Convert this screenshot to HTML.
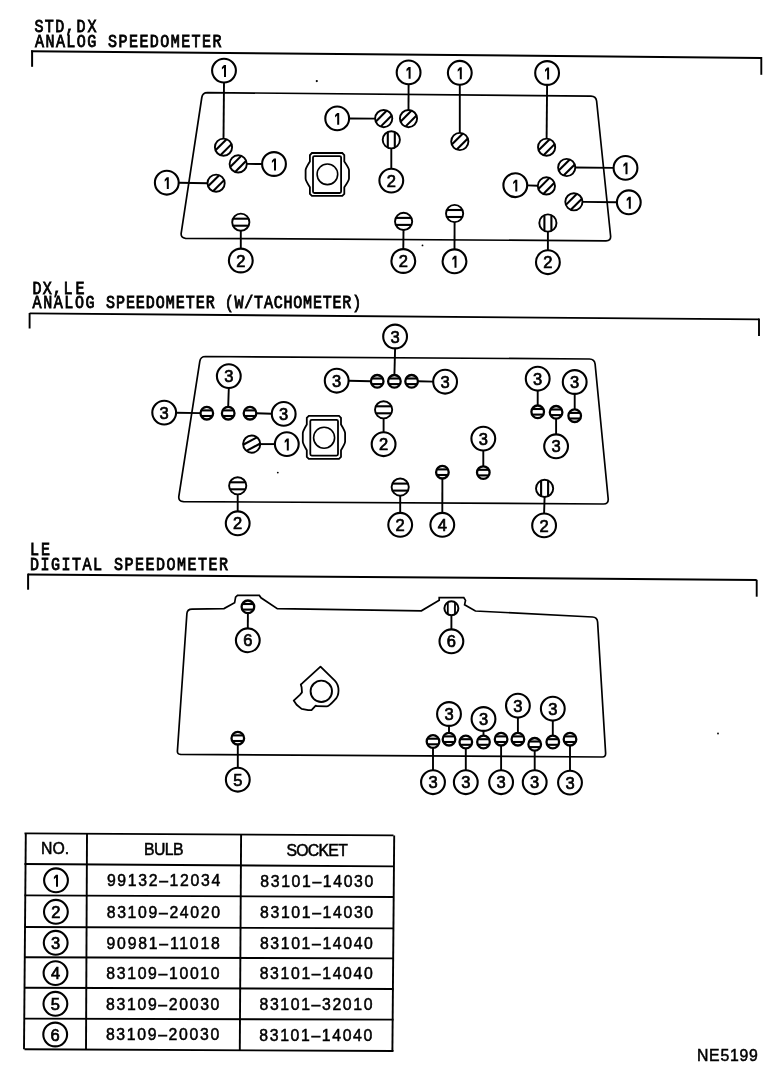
<!DOCTYPE html>
<html><head><meta charset="utf-8"><style>
html,body{margin:0;padding:0;background:#fff;}
body{width:784px;height:1092px;overflow:hidden;}
svg{display:block;will-change:transform;}
text{font-family:"Liberation Mono",monospace;fill:#000;stroke:none;}
.hd{stroke:#000;stroke-width:0.85;}
.tb{font-family:"Liberation Sans",sans-serif;stroke:#000;stroke-width:0.5;}
.dg{font-family:"Liberation Sans",sans-serif;font-size:16.5px;text-anchor:middle;stroke:#000;stroke-width:0.7;}
</style></head><body>
<svg width="784" height="1092" viewBox="0 0 784 1092">
<rect width="784" height="1092" fill="#fff"/>
<g stroke="#000" fill="none" stroke-linecap="butt">
<text class="hd" transform="translate(34.5,31.8) scale(0.86,1)" x="0" y="0" textLength="46.5" lengthAdjust="spacing" font-size="17.5">STD,</text>
<text class="hd" transform="translate(76.5,31.8) scale(0.86,1)" x="0" y="0" textLength="23.3" lengthAdjust="spacing" font-size="17.5">DX</text>
<text class="hd" transform="translate(35.0,46.7) scale(0.86,1)" x="0" y="0" textLength="216.9" lengthAdjust="spacing" font-size="17.5">ANALOG SPEEDOMETER</text>
<line x1="31.0" y1="51.2" x2="761.3" y2="57.9" stroke-width="2.0"/>
<line x1="32.1" y1="50.5" x2="32.1" y2="66.8" stroke-width="2.0"/>
<line x1="761.3" y1="57.0" x2="761.3" y2="74.8" stroke-width="1.9"/>
<path d="M207.5,92.6 L591,96.1 Q596,96.3 596.6,101 L610.6,236 Q611,240.8 606,240.8 L185.5,238.3 Q180.6,238 181.2,233 L201.8,97.5 Q202.5,92.6 207.5,92.6 Z" stroke-width="1.7" fill="none"/>
<circle cx="316.8" cy="81.1" r="1.1" fill="#000" stroke="none"/>
<circle cx="422.5" cy="245.4" r="0.9" fill="#000" stroke="none"/>
<line x1="224.0" y1="82.5" x2="223.5" y2="139.0" stroke-width="1.9"/>
<line x1="247.0" y1="163.9" x2="262.0" y2="164.0" stroke-width="1.9"/>
<line x1="178.7" y1="182.7" x2="208.0" y2="183.2" stroke-width="1.9"/>
<line x1="240.8" y1="230.5" x2="240.8" y2="248.6" stroke-width="1.9"/>
<line x1="349.0" y1="118.5" x2="375.4" y2="118.6" stroke-width="1.9"/>
<line x1="408.6" y1="84.3" x2="408.5" y2="110.3" stroke-width="1.9"/>
<line x1="459.8" y1="84.7" x2="459.8" y2="133.2" stroke-width="1.9"/>
<line x1="391.3" y1="148.1" x2="391.3" y2="168.7" stroke-width="1.9"/>
<line x1="403.5" y1="229.7" x2="403.3" y2="249.1" stroke-width="1.9"/>
<line x1="454.6" y1="221.8" x2="454.5" y2="249.4" stroke-width="1.9"/>
<line x1="547.1" y1="84.9" x2="546.6" y2="138.9" stroke-width="1.9"/>
<line x1="575.0" y1="167.5" x2="613.6" y2="167.9" stroke-width="1.9"/>
<line x1="527.2" y1="185.4" x2="538.1" y2="185.8" stroke-width="1.9"/>
<line x1="582.2" y1="201.9" x2="616.9" y2="202.3" stroke-width="1.9"/>
<line x1="547.9" y1="231.3" x2="547.9" y2="250.3" stroke-width="1.9"/>
<circle cx="224.0" cy="70.6" r="11.9" stroke-width="2.1" fill="#fff"/>
<path d="M224.00,65.10 L226.00,65.10 L226.00,77.00 L224.00,77.00 L224.00,67.70 L221.90,69.60 L221.90,67.30 Z" fill="#000" stroke="none"/>
<circle cx="223.5" cy="147.2" r="8.6" stroke-width="1.9" fill="#fff"/>
<line x1="215.47" y1="150.28" x2="226.58" y2="139.17" stroke-width="2.1"/>
<line x1="220.42" y1="155.23" x2="231.53" y2="144.12" stroke-width="2.1"/>
<circle cx="274.0" cy="164.0" r="11.9" stroke-width="2.1" fill="#fff"/>
<path d="M274.00,158.50 L276.00,158.50 L276.00,170.40 L274.00,170.40 L274.00,161.10 L271.90,163.00 L271.90,160.70 Z" fill="#000" stroke="none"/>
<circle cx="238.2" cy="163.9" r="8.6" stroke-width="1.9" fill="#fff"/>
<line x1="230.17" y1="166.98" x2="241.28" y2="155.87" stroke-width="2.1"/>
<line x1="235.12" y1="171.93" x2="246.23" y2="160.82" stroke-width="2.1"/>
<circle cx="166.8" cy="182.7" r="11.9" stroke-width="2.1" fill="#fff"/>
<path d="M166.80,177.20 L168.80,177.20 L168.80,189.10 L166.80,189.10 L166.80,179.80 L164.70,181.70 L164.70,179.40 Z" fill="#000" stroke="none"/>
<circle cx="216.1" cy="183.2" r="8.6" stroke-width="1.9" fill="#fff"/>
<line x1="208.07" y1="186.28" x2="219.18" y2="175.17" stroke-width="2.1"/>
<line x1="213.02" y1="191.23" x2="224.13" y2="180.12" stroke-width="2.1"/>
<circle cx="240.8" cy="260.5" r="11.9" stroke-width="2.1" fill="#fff"/>
<text class="dg" x="240.8" y="266.6">2</text>
<circle cx="240.8" cy="222.2" r="8.6" stroke-width="1.9" fill="#fff"/>
<line x1="232.94" y1="218.70" x2="248.66" y2="218.70" stroke-width="2.1"/>
<line x1="232.94" y1="225.70" x2="248.66" y2="225.70" stroke-width="2.1"/>
<circle cx="337.2" cy="118.4" r="11.9" stroke-width="2.1" fill="#fff"/>
<path d="M337.20,112.90 L339.20,112.90 L339.20,124.80 L337.20,124.80 L337.20,115.50 L335.10,117.40 L335.10,115.10 Z" fill="#000" stroke="none"/>
<circle cx="383.7" cy="118.6" r="8.6" stroke-width="1.9" fill="#fff"/>
<line x1="375.67" y1="121.68" x2="386.78" y2="110.57" stroke-width="2.1"/>
<line x1="380.62" y1="126.63" x2="391.73" y2="115.52" stroke-width="2.1"/>
<circle cx="408.6" cy="72.4" r="11.9" stroke-width="2.1" fill="#fff"/>
<path d="M408.60,66.90 L410.60,66.90 L410.60,78.80 L408.60,78.80 L408.60,69.50 L406.50,71.40 L406.50,69.10 Z" fill="#000" stroke="none"/>
<circle cx="408.5" cy="118.6" r="8.6" stroke-width="1.9" fill="#fff"/>
<line x1="400.47" y1="121.68" x2="411.58" y2="110.57" stroke-width="2.1"/>
<line x1="405.42" y1="126.63" x2="416.53" y2="115.52" stroke-width="2.1"/>
<circle cx="459.8" cy="72.8" r="11.9" stroke-width="2.1" fill="#fff"/>
<path d="M459.80,67.30 L461.80,67.30 L461.80,79.20 L459.80,79.20 L459.80,69.90 L457.70,71.80 L457.70,69.50 Z" fill="#000" stroke="none"/>
<circle cx="459.8" cy="141.5" r="8.6" stroke-width="1.9" fill="#fff"/>
<line x1="451.77" y1="144.58" x2="462.88" y2="133.47" stroke-width="2.1"/>
<line x1="456.72" y1="149.53" x2="467.83" y2="138.42" stroke-width="2.1"/>
<circle cx="391.3" cy="180.6" r="11.9" stroke-width="2.1" fill="#fff"/>
<text class="dg" x="391.3" y="186.7">2</text>
<circle cx="391.3" cy="139.8" r="8.6" stroke-width="1.9" fill="#fff"/>
<line x1="394.80" y1="131.94" x2="394.80" y2="147.66" stroke-width="2.1"/>
<line x1="387.80" y1="131.94" x2="387.80" y2="147.66" stroke-width="2.1"/>
<circle cx="403.3" cy="261.0" r="11.9" stroke-width="2.1" fill="#fff"/>
<text class="dg" x="403.3" y="267.1">2</text>
<circle cx="403.6" cy="221.4" r="8.6" stroke-width="1.9" fill="#fff"/>
<line x1="395.74" y1="217.90" x2="411.46" y2="217.90" stroke-width="2.1"/>
<line x1="395.74" y1="224.90" x2="411.46" y2="224.90" stroke-width="2.1"/>
<circle cx="454.5" cy="261.3" r="11.9" stroke-width="2.1" fill="#fff"/>
<path d="M454.50,255.80 L456.50,255.80 L456.50,267.70 L454.50,267.70 L454.50,258.40 L452.40,260.30 L452.40,258.00 Z" fill="#000" stroke="none"/>
<circle cx="454.6" cy="213.5" r="8.6" stroke-width="1.9" fill="#fff"/>
<line x1="446.74" y1="210.00" x2="462.46" y2="210.00" stroke-width="2.1"/>
<line x1="446.74" y1="217.00" x2="462.46" y2="217.00" stroke-width="2.1"/>
<circle cx="547.1" cy="73.0" r="11.9" stroke-width="2.1" fill="#fff"/>
<path d="M547.10,67.50 L549.10,67.50 L549.10,79.40 L547.10,79.40 L547.10,70.10 L545.00,72.00 L545.00,69.70 Z" fill="#000" stroke="none"/>
<circle cx="546.6" cy="147.2" r="8.6" stroke-width="1.9" fill="#fff"/>
<line x1="538.57" y1="150.28" x2="549.68" y2="139.17" stroke-width="2.1"/>
<line x1="543.52" y1="155.23" x2="554.63" y2="144.12" stroke-width="2.1"/>
<circle cx="625.5" cy="167.9" r="11.9" stroke-width="2.1" fill="#fff"/>
<path d="M625.50,162.40 L627.50,162.40 L627.50,174.30 L625.50,174.30 L625.50,165.00 L623.40,166.90 L623.40,164.60 Z" fill="#000" stroke="none"/>
<circle cx="566.7" cy="167.5" r="8.6" stroke-width="1.9" fill="#fff"/>
<line x1="558.67" y1="170.58" x2="569.78" y2="159.47" stroke-width="2.1"/>
<line x1="563.62" y1="175.53" x2="574.73" y2="164.42" stroke-width="2.1"/>
<circle cx="515.3" cy="185.2" r="11.9" stroke-width="2.1" fill="#fff"/>
<path d="M515.30,179.70 L517.30,179.70 L517.30,191.60 L515.30,191.60 L515.30,182.30 L513.20,184.20 L513.20,181.90 Z" fill="#000" stroke="none"/>
<circle cx="546.4" cy="185.9" r="8.6" stroke-width="1.9" fill="#fff"/>
<line x1="538.37" y1="188.98" x2="549.48" y2="177.87" stroke-width="2.1"/>
<line x1="543.32" y1="193.93" x2="554.43" y2="182.82" stroke-width="2.1"/>
<circle cx="628.8" cy="202.3" r="11.9" stroke-width="2.1" fill="#fff"/>
<path d="M628.80,196.80 L630.80,196.80 L630.80,208.70 L628.80,208.70 L628.80,199.40 L626.70,201.30 L626.70,199.00 Z" fill="#000" stroke="none"/>
<circle cx="573.9" cy="201.8" r="8.6" stroke-width="1.9" fill="#fff"/>
<line x1="565.87" y1="204.88" x2="576.98" y2="193.77" stroke-width="2.1"/>
<line x1="570.82" y1="209.83" x2="581.93" y2="198.72" stroke-width="2.1"/>
<circle cx="547.9" cy="262.2" r="11.9" stroke-width="2.1" fill="#fff"/>
<text class="dg" x="547.9" y="268.3">2</text>
<circle cx="547.9" cy="223.0" r="8.6" stroke-width="1.9" fill="#fff"/>
<line x1="551.40" y1="215.14" x2="551.40" y2="230.86" stroke-width="2.1"/>
<line x1="544.40" y1="215.14" x2="544.40" y2="230.86" stroke-width="2.1"/>
<path d="M311.9,153.0 L342.3,153.0 L344.3,155.0 L344.3,161.58 Q349.0,168.302 349.0,170.302 L349.0,178.598 Q349.0,180.598 344.3,187.32 L344.3,193.9 L342.3,195.9 L311.9,195.9 L309.9,193.9 L309.9,187.32 Q305.6,180.598 305.6,178.598 L305.6,170.302 Q305.6,168.302 309.9,161.58 L309.9,155.0 Z" stroke-width="1.8" fill="none"/>
<rect x="313.0" y="156.1" width="28.100000000000023" height="36.900000000000006" rx="1.5" stroke-width="1.8" fill="none"/>
<circle cx="327.4" cy="174.3" r="10.3" stroke-width="1.6" fill="none"/>
<text class="hd" transform="translate(32.4,294.3) scale(0.86,1)" x="0" y="0" textLength="34.3" lengthAdjust="spacing" font-size="17.5">DX,</text>
<text class="hd" transform="translate(63.5,294.3) scale(0.86,1)" x="0" y="0" textLength="24.4" lengthAdjust="spacing" font-size="17.5">LE</text>
<text class="hd" transform="translate(32.6,308.3) scale(0.86,1)" x="0" y="0" textLength="72.1" lengthAdjust="spacing" font-size="17.5">ANALOG</text>
<text class="hd" transform="translate(105.9,308.3) scale(0.86,1)" x="0" y="0" textLength="126.7" lengthAdjust="spacing" font-size="17.5">SPEEDOMETER</text>
<text class="hd" transform="translate(224.7,308.3) scale(0.86,1)" x="0" y="0" textLength="158.7" lengthAdjust="spacing" font-size="17.5">(W/TACHOMETER)</text>
<line x1="29.6" y1="313.4" x2="759.0" y2="319.4" stroke-width="1.9"/>
<line x1="29.6" y1="313.0" x2="29.6" y2="328.5" stroke-width="1.9"/>
<line x1="759.0" y1="318.6" x2="759.0" y2="336.0" stroke-width="1.9"/>
<path d="M205.5,356.5 L589.5,359 Q594.5,359.2 595.1,364 L608.2,499 Q608.5,504 603.5,504 L183.5,501.6 Q178.3,501.4 178.8,496.5 L199.8,361.4 Q200.5,356.5 205.5,356.5 Z" stroke-width="1.7" fill="none"/>
<circle cx="277.8" cy="472.6" r="0.9" fill="#000" stroke="none"/>
<circle cx="718" cy="733.5" r="0.9" fill="#000" stroke="none"/>
<line x1="228.8" y1="388.0" x2="228.2" y2="407.0" stroke-width="1.9"/>
<line x1="176.1" y1="412.7" x2="200.5" y2="413.1" stroke-width="1.9"/>
<line x1="256.3" y1="413.3" x2="271.8" y2="413.8" stroke-width="1.9"/>
<line x1="260.0" y1="444.1" x2="274.9" y2="444.1" stroke-width="1.9"/>
<line x1="237.7" y1="494.0" x2="237.7" y2="511.4" stroke-width="1.9"/>
<line x1="395.1" y1="348.4" x2="394.4" y2="375.0" stroke-width="1.9"/>
<line x1="348.6" y1="380.8" x2="370.9" y2="381.2" stroke-width="1.9"/>
<line x1="417.9" y1="381.3" x2="433.2" y2="381.6" stroke-width="1.9"/>
<line x1="383.6" y1="418.0" x2="383.6" y2="432.3" stroke-width="1.9"/>
<line x1="442.4" y1="478.5" x2="442.3" y2="512.9" stroke-width="1.9"/>
<line x1="400.2" y1="495.3" x2="400.2" y2="512.9" stroke-width="1.9"/>
<line x1="483.3" y1="450.5" x2="483.3" y2="466.3" stroke-width="1.9"/>
<line x1="537.7" y1="390.6" x2="537.7" y2="405.5" stroke-width="1.9"/>
<line x1="574.7" y1="393.9" x2="574.7" y2="409.4" stroke-width="1.9"/>
<line x1="556.1" y1="418.6" x2="556.1" y2="434.4" stroke-width="1.9"/>
<line x1="544.6" y1="496.6" x2="544.1" y2="513.5" stroke-width="1.9"/>
<circle cx="228.8" cy="376.1" r="11.9" stroke-width="2.1" fill="#fff"/>
<text class="dg" x="228.8" y="382.2">3</text>
<circle cx="228.2" cy="413.2" r="6.3" stroke-width="2.3" fill="#fff"/>
<line x1="222.56" y1="410.40" x2="233.84" y2="410.40" stroke-width="2.1"/>
<line x1="222.56" y1="416.00" x2="233.84" y2="416.00" stroke-width="2.1"/>
<circle cx="164.2" cy="412.6" r="11.9" stroke-width="2.1" fill="#fff"/>
<text class="dg" x="164.2" y="418.7">3</text>
<circle cx="206.8" cy="413.2" r="6.3" stroke-width="2.3" fill="#fff"/>
<line x1="201.16" y1="410.40" x2="212.44" y2="410.40" stroke-width="2.1"/>
<line x1="201.16" y1="416.00" x2="212.44" y2="416.00" stroke-width="2.1"/>
<circle cx="250.0" cy="413.2" r="6.3" stroke-width="2.3" fill="#fff"/>
<line x1="244.36" y1="410.40" x2="255.64" y2="410.40" stroke-width="2.1"/>
<line x1="244.36" y1="416.00" x2="255.64" y2="416.00" stroke-width="2.1"/>
<circle cx="283.7" cy="413.9" r="11.9" stroke-width="2.1" fill="#fff"/>
<text class="dg" x="283.7" y="420.0">3</text>
<circle cx="251.7" cy="444.1" r="8.6" stroke-width="1.9" fill="#fff"/>
<line x1="243.12" y1="444.70" x2="256.99" y2="437.32" stroke-width="2.1"/>
<line x1="246.41" y1="450.88" x2="260.28" y2="443.50" stroke-width="2.1"/>
<circle cx="286.8" cy="444.1" r="11.9" stroke-width="2.1" fill="#fff"/>
<path d="M286.80,438.60 L288.80,438.60 L288.80,450.50 L286.80,450.50 L286.80,441.20 L284.70,443.10 L284.70,440.80 Z" fill="#000" stroke="none"/>
<circle cx="237.7" cy="485.8" r="8.6" stroke-width="1.9" fill="#fff"/>
<line x1="229.84" y1="482.30" x2="245.56" y2="482.30" stroke-width="2.1"/>
<line x1="229.84" y1="489.30" x2="245.56" y2="489.30" stroke-width="2.1"/>
<circle cx="237.7" cy="523.3" r="11.9" stroke-width="2.1" fill="#fff"/>
<text class="dg" x="237.7" y="529.4">2</text>
<circle cx="395.1" cy="336.5" r="11.9" stroke-width="2.1" fill="#fff"/>
<text class="dg" x="395.1" y="342.6">3</text>
<circle cx="394.4" cy="381.3" r="6.3" stroke-width="2.3" fill="#fff"/>
<line x1="388.76" y1="378.50" x2="400.04" y2="378.50" stroke-width="2.1"/>
<line x1="388.76" y1="384.10" x2="400.04" y2="384.10" stroke-width="2.1"/>
<circle cx="336.7" cy="380.7" r="11.9" stroke-width="2.1" fill="#fff"/>
<text class="dg" x="336.7" y="386.8">3</text>
<circle cx="377.2" cy="381.3" r="6.3" stroke-width="2.3" fill="#fff"/>
<line x1="371.56" y1="378.50" x2="382.84" y2="378.50" stroke-width="2.1"/>
<line x1="371.56" y1="384.10" x2="382.84" y2="384.10" stroke-width="2.1"/>
<circle cx="411.6" cy="381.3" r="6.3" stroke-width="2.3" fill="#fff"/>
<line x1="405.96" y1="378.50" x2="417.24" y2="378.50" stroke-width="2.1"/>
<line x1="405.96" y1="384.10" x2="417.24" y2="384.10" stroke-width="2.1"/>
<circle cx="445.1" cy="381.7" r="11.9" stroke-width="2.1" fill="#fff"/>
<text class="dg" x="445.1" y="387.8">3</text>
<path d="M308.8,415.9 L339.0,415.9 L341.0,417.9 L341.0,424.5 Q345.1,431.23999999999995 345.1,433.23999999999995 L345.1,441.56 Q345.1,443.56 341.0,450.29999999999995 L341.0,456.9 L339.0,458.9 L308.8,458.9 L306.8,456.9 L306.8,450.29999999999995 Q302.8,443.56 302.8,441.56 L302.8,433.23999999999995 Q302.8,431.23999999999995 306.8,424.5 L306.8,417.9 Z" stroke-width="1.8" fill="none"/>
<rect x="310.3" y="419.8" width="27.69999999999999" height="35.80000000000001" rx="1.5" stroke-width="1.8" fill="none"/>
<circle cx="324.1" cy="437.7" r="10.5" stroke-width="1.6" fill="none"/>
<circle cx="383.6" cy="409.8" r="8.6" stroke-width="1.9" fill="#fff"/>
<line x1="375.74" y1="406.30" x2="391.46" y2="406.30" stroke-width="2.1"/>
<line x1="375.74" y1="413.30" x2="391.46" y2="413.30" stroke-width="2.1"/>
<circle cx="383.6" cy="444.2" r="11.9" stroke-width="2.1" fill="#fff"/>
<text class="dg" x="383.6" y="450.3">2</text>
<circle cx="442.4" cy="472.2" r="6.3" stroke-width="2.3" fill="#fff"/>
<line x1="436.76" y1="469.40" x2="448.04" y2="469.40" stroke-width="2.1"/>
<line x1="436.76" y1="475.00" x2="448.04" y2="475.00" stroke-width="2.1"/>
<circle cx="442.3" cy="524.8" r="11.9" stroke-width="2.1" fill="#fff"/>
<text class="dg" x="442.3" y="530.9">4</text>
<circle cx="400.2" cy="487.1" r="8.6" stroke-width="1.9" fill="#fff"/>
<line x1="392.34" y1="483.60" x2="408.06" y2="483.60" stroke-width="2.1"/>
<line x1="392.34" y1="490.60" x2="408.06" y2="490.60" stroke-width="2.1"/>
<circle cx="400.2" cy="524.8" r="11.9" stroke-width="2.1" fill="#fff"/>
<text class="dg" x="400.2" y="530.9">2</text>
<circle cx="483.3" cy="438.6" r="11.9" stroke-width="2.1" fill="#fff"/>
<text class="dg" x="483.3" y="444.7">3</text>
<circle cx="483.3" cy="472.6" r="6.3" stroke-width="2.3" fill="#fff"/>
<line x1="477.66" y1="469.80" x2="488.94" y2="469.80" stroke-width="2.1"/>
<line x1="477.66" y1="475.40" x2="488.94" y2="475.40" stroke-width="2.1"/>
<circle cx="537.7" cy="378.7" r="11.9" stroke-width="2.1" fill="#fff"/>
<text class="dg" x="537.7" y="384.8">3</text>
<circle cx="537.7" cy="411.8" r="6.3" stroke-width="2.3" fill="#fff"/>
<line x1="532.06" y1="409.00" x2="543.34" y2="409.00" stroke-width="2.1"/>
<line x1="532.06" y1="414.60" x2="543.34" y2="414.60" stroke-width="2.1"/>
<circle cx="574.7" cy="382.0" r="11.9" stroke-width="2.1" fill="#fff"/>
<text class="dg" x="574.7" y="388.1">3</text>
<circle cx="574.7" cy="415.7" r="6.3" stroke-width="2.3" fill="#fff"/>
<line x1="569.06" y1="412.90" x2="580.34" y2="412.90" stroke-width="2.1"/>
<line x1="569.06" y1="418.50" x2="580.34" y2="418.50" stroke-width="2.1"/>
<circle cx="556.1" cy="412.3" r="6.3" stroke-width="2.3" fill="#fff"/>
<line x1="550.46" y1="409.50" x2="561.74" y2="409.50" stroke-width="2.1"/>
<line x1="550.46" y1="415.10" x2="561.74" y2="415.10" stroke-width="2.1"/>
<circle cx="556.1" cy="446.3" r="11.9" stroke-width="2.1" fill="#fff"/>
<text class="dg" x="556.1" y="452.4">3</text>
<circle cx="544.6" cy="488.4" r="8.6" stroke-width="1.9" fill="#fff"/>
<line x1="548.10" y1="480.54" x2="548.10" y2="496.26" stroke-width="2.1"/>
<line x1="541.10" y1="480.54" x2="541.10" y2="496.26" stroke-width="2.1"/>
<circle cx="544.1" cy="525.4" r="11.9" stroke-width="2.1" fill="#fff"/>
<text class="dg" x="544.1" y="531.5">2</text>
<text class="hd" transform="translate(30.1,554.5) scale(0.86,1)" x="0" y="0" textLength="23.1" lengthAdjust="spacing" font-size="17.5">LE</text>
<text class="hd" transform="translate(30.1,569.5) scale(0.86,1)" x="0" y="0" textLength="230.2" lengthAdjust="spacing" font-size="17.5">DIGITAL SPEEDOMETER</text>
<line x1="28.0" y1="574.4" x2="756.7" y2="580.0" stroke-width="2.0"/>
<line x1="28.1" y1="573.6" x2="28.1" y2="589.7" stroke-width="2.0"/>
<line x1="756.7" y1="579.8" x2="756.7" y2="596.7" stroke-width="1.9"/>
<path d="M192,609.2 L224,608.6 L234.6,602.8 L235.6,597.2 L237.5,595.4 L259.3,595.4 L261,597.8 L277.3,608.6 L421.4,610.8 L439.2,600.3 L439.2,597.6 L463.8,597.6 L465.5,600.3 L464.6,604.7 L475.4,611 L592.5,617 Q597.2,617.2 597.6,622 L605.6,753 Q605.8,757 602.5,757 L180.5,754.4 Q177.2,754.2 177.4,751 L186.9,613.5 Q187.3,609.3 192,609.2 Z" stroke-width="1.7" fill="none"/>
<line x1="247.9" y1="613.2" x2="247.8" y2="628.4" stroke-width="1.9"/>
<line x1="451.4" y1="615.7" x2="451.4" y2="629.4" stroke-width="1.9"/>
<line x1="237.8" y1="744.5" x2="237.8" y2="767.8" stroke-width="1.9"/>
<circle cx="247.9" cy="606.8" r="6.3" stroke-width="2.3" fill="#fff"/>
<line x1="242.26" y1="604.00" x2="253.54" y2="604.00" stroke-width="2.1"/>
<line x1="242.26" y1="609.60" x2="253.54" y2="609.60" stroke-width="2.1"/>
<circle cx="247.8" cy="640.3" r="11.9" stroke-width="2.1" fill="#fff"/>
<text class="dg" x="247.8" y="646.4">6</text>
<circle cx="451.4" cy="608.3" r="7.0" stroke-width="2.0" fill="#fff"/>
<line x1="455.00" y1="602.30" x2="455.00" y2="614.30" stroke-width="1.8"/>
<line x1="447.80" y1="602.30" x2="447.80" y2="614.30" stroke-width="1.8"/>
<circle cx="451.4" cy="641.3" r="11.9" stroke-width="2.1" fill="#fff"/>
<text class="dg" x="451.4" y="647.4">6</text>
<circle cx="237.8" cy="738.2" r="6.3" stroke-width="2.3" fill="#fff"/>
<line x1="232.16" y1="735.40" x2="243.44" y2="735.40" stroke-width="2.1"/>
<line x1="232.16" y1="741.00" x2="243.44" y2="741.00" stroke-width="2.1"/>
<circle cx="237.8" cy="779.7" r="11.9" stroke-width="2.1" fill="#fff"/>
<text class="dg" x="237.8" y="785.8">5</text>
<path d="M320.5,666.6 L334.8,680.7 C340,686 339.5,696 334.8,699.8 C331,704 328,706.4 326.5,706.4 L316.9,706.2 L315.7,705.6 L311.5,710.1 L308.2,710.1 L301.6,708.9 L296.6,704.8 L293.7,700.6 L299.9,694.8 L302,692.3 L301.6,687.3 L300.8,684.4 L302.4,683.2 Z" stroke-width="1.8" fill="none" stroke-linejoin="round"/>
<circle cx="321.3" cy="691.3" r="10.7" stroke-width="1.9" fill="none"/>
<line x1="433.0" y1="747.5" x2="433.0" y2="770.3" stroke-width="1.9"/>
<line x1="449.0" y1="725.9" x2="449.0" y2="733.2" stroke-width="1.9"/>
<line x1="465.8" y1="748.0" x2="465.8" y2="770.3" stroke-width="1.9"/>
<line x1="483.5" y1="730.9" x2="483.5" y2="736.0" stroke-width="1.9"/>
<line x1="501.1" y1="745.2" x2="501.1" y2="770.3" stroke-width="1.9"/>
<line x1="517.9" y1="717.6" x2="517.9" y2="733.2" stroke-width="1.9"/>
<line x1="534.7" y1="750.3" x2="534.7" y2="770.3" stroke-width="1.9"/>
<line x1="552.8" y1="720.6" x2="552.8" y2="736.0" stroke-width="1.9"/>
<line x1="570.0" y1="745.2" x2="570.0" y2="770.7" stroke-width="1.9"/>
<circle cx="433.0" cy="741.5" r="6.3" stroke-width="2.3" fill="#fff"/>
<line x1="427.36" y1="738.70" x2="438.64" y2="738.70" stroke-width="2.1"/>
<line x1="427.36" y1="744.30" x2="438.64" y2="744.30" stroke-width="2.1"/>
<circle cx="433.0" cy="782.2" r="11.9" stroke-width="2.1" fill="#fff"/>
<text class="dg" x="433.0" y="788.3">3</text>
<circle cx="449.0" cy="739.2" r="6.3" stroke-width="2.3" fill="#fff"/>
<line x1="443.36" y1="736.40" x2="454.64" y2="736.40" stroke-width="2.1"/>
<line x1="443.36" y1="742.00" x2="454.64" y2="742.00" stroke-width="2.1"/>
<circle cx="449.0" cy="714.0" r="11.9" stroke-width="2.1" fill="#fff"/>
<text class="dg" x="449.0" y="720.1">3</text>
<circle cx="465.8" cy="742.0" r="6.3" stroke-width="2.3" fill="#fff"/>
<line x1="460.16" y1="739.20" x2="471.44" y2="739.20" stroke-width="2.1"/>
<line x1="460.16" y1="744.80" x2="471.44" y2="744.80" stroke-width="2.1"/>
<circle cx="465.8" cy="782.2" r="11.9" stroke-width="2.1" fill="#fff"/>
<text class="dg" x="465.8" y="788.3">3</text>
<circle cx="483.5" cy="742.0" r="6.3" stroke-width="2.3" fill="#fff"/>
<line x1="477.86" y1="739.20" x2="489.14" y2="739.20" stroke-width="2.1"/>
<line x1="477.86" y1="744.80" x2="489.14" y2="744.80" stroke-width="2.1"/>
<circle cx="483.5" cy="719.0" r="11.9" stroke-width="2.1" fill="#fff"/>
<text class="dg" x="483.5" y="725.1">3</text>
<circle cx="501.1" cy="739.2" r="6.3" stroke-width="2.3" fill="#fff"/>
<line x1="495.46" y1="736.40" x2="506.74" y2="736.40" stroke-width="2.1"/>
<line x1="495.46" y1="742.00" x2="506.74" y2="742.00" stroke-width="2.1"/>
<circle cx="501.1" cy="782.2" r="11.9" stroke-width="2.1" fill="#fff"/>
<text class="dg" x="501.1" y="788.3">3</text>
<circle cx="517.9" cy="739.2" r="6.3" stroke-width="2.3" fill="#fff"/>
<line x1="512.26" y1="736.40" x2="523.54" y2="736.40" stroke-width="2.1"/>
<line x1="512.26" y1="742.00" x2="523.54" y2="742.00" stroke-width="2.1"/>
<circle cx="517.9" cy="705.7" r="11.9" stroke-width="2.1" fill="#fff"/>
<text class="dg" x="517.9" y="711.8">3</text>
<circle cx="534.7" cy="744.3" r="6.3" stroke-width="2.3" fill="#fff"/>
<line x1="529.06" y1="741.50" x2="540.34" y2="741.50" stroke-width="2.1"/>
<line x1="529.06" y1="747.10" x2="540.34" y2="747.10" stroke-width="2.1"/>
<circle cx="534.7" cy="782.2" r="11.9" stroke-width="2.1" fill="#fff"/>
<text class="dg" x="534.7" y="788.3">3</text>
<circle cx="552.8" cy="742.0" r="6.3" stroke-width="2.3" fill="#fff"/>
<line x1="547.16" y1="739.20" x2="558.44" y2="739.20" stroke-width="2.1"/>
<line x1="547.16" y1="744.80" x2="558.44" y2="744.80" stroke-width="2.1"/>
<circle cx="552.8" cy="708.7" r="11.9" stroke-width="2.1" fill="#fff"/>
<text class="dg" x="552.8" y="714.8">3</text>
<circle cx="570.0" cy="739.2" r="6.3" stroke-width="2.3" fill="#fff"/>
<line x1="564.36" y1="736.40" x2="575.64" y2="736.40" stroke-width="2.1"/>
<line x1="564.36" y1="742.00" x2="575.64" y2="742.00" stroke-width="2.1"/>
<circle cx="570.0" cy="782.6" r="11.9" stroke-width="2.1" fill="#fff"/>
<text class="dg" x="570.0" y="788.7">3</text>
<line x1="24.5" y1="833.4" x2="393.5" y2="835.4" stroke-width="1.9"/>
<line x1="24.5" y1="864.0" x2="393.5" y2="866.4" stroke-width="1.9"/>
<line x1="24.5" y1="895.4" x2="393.5" y2="897.0" stroke-width="1.9"/>
<line x1="24.5" y1="927.0" x2="393.5" y2="928.4" stroke-width="1.9"/>
<line x1="24.5" y1="957.3" x2="393.5" y2="958.4" stroke-width="1.9"/>
<line x1="24.5" y1="987.8" x2="393.5" y2="989.0" stroke-width="1.9"/>
<line x1="24.5" y1="1018.6" x2="393.5" y2="1019.6" stroke-width="1.9"/>
<line x1="24.5" y1="1049.3" x2="393.5" y2="1051.0" stroke-width="1.9"/>
<line x1="25.8" y1="833.4" x2="24.0" y2="1049.3" stroke-width="1.9"/>
<line x1="87.0" y1="834.0" x2="86.0" y2="1049.8" stroke-width="1.9"/>
<line x1="241.1" y1="834.5" x2="239.8" y2="1050.5" stroke-width="1.9"/>
<line x1="394.2" y1="835.4" x2="392.4" y2="1051.0" stroke-width="1.9"/>
<text class="tb" x="41.1" y="854.3" textLength="28.1" lengthAdjust="spacing" font-size="15.8">NO.</text>
<text class="tb" x="143.9" y="854.6" textLength="39.6" lengthAdjust="spacing" font-size="15.8">BULB</text>
<text class="tb" x="286.5" y="855.6" textLength="61.3" lengthAdjust="spacing" font-size="15.8">SOCKET</text>
<circle cx="56.0" cy="880.3" r="11.9" stroke-width="2.1" fill="#fff"/>
<path d="M56.00,874.80 L58.00,874.80 L58.00,886.70 L56.00,886.70 L56.00,877.40 L53.90,879.30 L53.90,877.00 Z" fill="#000" stroke="none"/>
<text class="tb" x="106.9" y="886.1" textLength="113.3" lengthAdjust="spacing" font-size="15.8">99132&#8211;12034</text>
<text class="tb" x="260.3" y="886.5" textLength="113.0" lengthAdjust="spacing" font-size="15.8">83101&#8211;14030</text>
<circle cx="55.9" cy="911.8" r="11.9" stroke-width="2.1" fill="#fff"/>
<text class="dg" x="55.9" y="917.9">2</text>
<text class="tb" x="106.7" y="917.6" textLength="113.3" lengthAdjust="spacing" font-size="15.8">83109&#8211;24020</text>
<text class="tb" x="260.1" y="918.0" textLength="113.0" lengthAdjust="spacing" font-size="15.8">83101&#8211;14030</text>
<circle cx="55.7" cy="942.8" r="11.9" stroke-width="2.1" fill="#fff"/>
<text class="dg" x="55.7" y="948.9">3</text>
<text class="tb" x="106.5" y="948.5" textLength="113.3" lengthAdjust="spacing" font-size="15.8">90981&#8211;11018</text>
<text class="tb" x="259.9" y="948.9" textLength="113.0" lengthAdjust="spacing" font-size="15.8">83101&#8211;14040</text>
<circle cx="55.5" cy="973.1" r="11.9" stroke-width="2.1" fill="#fff"/>
<text class="dg" x="55.5" y="979.2">4</text>
<text class="tb" x="106.3" y="978.9" textLength="113.3" lengthAdjust="spacing" font-size="15.8">83109&#8211;10010</text>
<text class="tb" x="259.7" y="979.3" textLength="113.0" lengthAdjust="spacing" font-size="15.8">83101&#8211;14040</text>
<circle cx="55.4" cy="1003.8" r="11.9" stroke-width="2.1" fill="#fff"/>
<text class="dg" x="55.4" y="1009.9">5</text>
<text class="tb" x="106.1" y="1009.6" textLength="113.3" lengthAdjust="spacing" font-size="15.8">83109&#8211;20030</text>
<text class="tb" x="259.5" y="1010.0" textLength="113.0" lengthAdjust="spacing" font-size="15.8">83101&#8211;32010</text>
<circle cx="55.2" cy="1034.5" r="11.9" stroke-width="2.1" fill="#fff"/>
<text class="dg" x="55.2" y="1040.7">6</text>
<text class="tb" x="105.9" y="1040.3" textLength="113.3" lengthAdjust="spacing" font-size="15.8">83109&#8211;20030</text>
<text class="tb" x="259.3" y="1040.8" textLength="113.0" lengthAdjust="spacing" font-size="15.8">83101&#8211;14040</text>
<text class="tb" x="696.9" y="1061.0" textLength="61.0" lengthAdjust="spacing" font-size="15.8">NE5199</text>
</g>
</svg>
</body></html>
